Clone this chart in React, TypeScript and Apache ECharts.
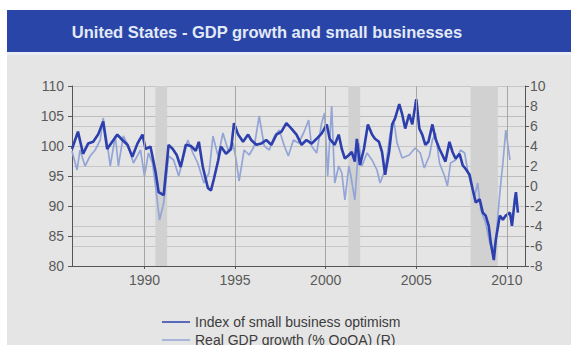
import React, { useEffect, useRef } from "react";
import * as echarts from "echarts";

// Index of small business optimism (left axis)
const indexYears = [
  1986.0, 1986.33, 1986.61, 1986.89, 1987.17, 1987.44, 1987.72, 1987.94, 1988.22, 1988.5,
  1988.78, 1989.06, 1989.33, 1989.61, 1989.89, 1990.06, 1990.33, 1990.61, 1990.78, 1991.06,
  1991.33, 1991.56, 1991.78, 1992.0, 1992.28, 1992.56, 1992.83, 1993.0, 1993.22, 1993.5,
  1993.67, 1993.83, 1994.06, 1994.22, 1994.5, 1994.78, 1994.94, 1995.17, 1995.44, 1995.72,
  1995.89, 1996.17, 1996.44, 1996.72, 1997.0, 1997.28, 1997.56, 1997.83, 1998.11, 1998.39,
  1998.67, 1998.94, 1999.22, 1999.5, 1999.78, 2000.06, 2000.22, 2000.5, 2000.72, 2000.89,
  2001.06, 2001.28, 2001.44, 2001.61, 2001.72, 2001.89, 2002.11, 2002.33, 2002.56, 2002.72,
  2002.94, 2003.11, 2003.28, 2003.5, 2003.67, 2003.83, 2004.06, 2004.22, 2004.39, 2004.61,
  2004.78, 2005.0, 2005.17, 2005.33, 2005.5, 2005.67, 2005.89, 2006.06, 2006.28, 2006.44,
  2006.61, 2006.83, 2007.0, 2007.17, 2007.39, 2007.56, 2007.72, 2007.94, 2008.11, 2008.28,
  2008.5, 2008.67, 2008.83, 2009.0, 2009.11, 2009.28, 2009.39, 2009.61, 2009.78, 2009.94,
  2010.17, 2010.28, 2010.44, 2010.5, 2010.61,
];
const indexValues = [
  99.5, 102.4, 98.7, 100.4, 100.7, 101.9, 104.1, 99.5, 100.7, 101.9,
  101.0, 100.2, 98.2, 100.4, 101.9, 99.5, 99.9, 95.7, 92.3, 91.8,
  100.2, 99.5, 98.5, 96.5, 100.2, 100.0, 99.2, 100.7, 96.5, 93.0,
  92.6, 94.5, 97.5, 99.9, 98.7, 99.5, 103.8, 101.9, 100.7, 101.9,
  101.0, 100.2, 100.4, 101.0, 100.2, 101.9, 102.4, 103.8, 102.9, 101.9,
  100.2, 101.0, 100.4, 101.2, 102.1, 103.6, 101.2, 100.2, 101.9, 99.5,
  97.9, 98.5, 99.0, 97.4, 101.2, 96.8, 99.5, 103.6, 101.9, 101.2,
  100.7, 99.0, 95.2, 99.0, 103.6, 104.6, 107.0, 105.3, 102.9, 105.3,
  103.6, 107.8, 102.9, 101.9, 100.2, 100.7, 103.6, 101.2, 99.5, 98.5,
  97.4, 100.7, 99.0, 97.9, 98.7, 96.8, 96.2, 95.2, 92.8, 90.6,
  91.1, 88.9, 88.4, 86.7, 83.9, 81.0, 84.4, 88.4, 87.7, 88.4,
  88.9, 86.7, 91.1, 92.3, 88.9,
];

// Real GDP growth, % QoQ annualised (right axis)
const gdpYears = [
  1986.0, 1986.28, 1986.44, 1986.72, 1987.0, 1987.28, 1987.56, 1987.72, 1987.94, 1988.11,
  1988.39, 1988.56, 1988.83, 1989.11, 1989.39, 1989.78, 1990.0, 1990.22, 1990.44, 1990.61,
  1990.83, 1991.06, 1991.33, 1991.61, 1991.89, 1992.17, 1992.39, 1992.67, 1992.94, 1993.28,
  1993.56, 1993.78, 1994.06, 1994.33, 1994.61, 1994.89, 1995.06, 1995.22, 1995.5, 1995.78,
  1996.06, 1996.33, 1996.61, 1996.89, 1997.17, 1997.44, 1997.72, 1997.94, 1998.22, 1998.5,
  1998.78, 1999.06, 1999.22, 1999.5, 1999.78, 1999.94, 2000.11, 2000.33, 2000.5, 2000.72,
  2000.89, 2001.06, 2001.28, 2001.39, 2001.61, 2001.83, 2002.0, 2002.28, 2002.56, 2002.83,
  2003.0, 2003.28, 2003.56, 2003.78, 2003.94, 2004.22, 2004.61, 2004.94, 2005.22, 2005.44,
  2005.72, 2005.89, 2006.06, 2006.28, 2006.56, 2006.72, 2006.89, 2007.17, 2007.44, 2007.67,
  2007.83, 2008.0, 2008.22, 2008.39, 2008.56, 2008.83, 2009.06, 2009.22, 2009.39, 2009.61,
  2009.78, 2009.94, 2010.17,
];
const gdpValues = [
  3.5, 1.6, 3.6, 2.0, 3.0, 3.6, 4.6, 6.8, 4.3, 2.0,
  5.0, 2.0, 5.0, 4.0, 2.3, 3.6, 1.0, 3.3, 2.3, 0.0,
  -3.4, -1.7, 3.0, 2.6, 1.0, 3.0, 4.6, 3.3, 2.3, 0.3,
  1.3, 5.0, 3.0, 5.3, 3.6, 4.3, 2.6, 0.5, 3.6, 3.1,
  4.0, 7.0, 4.0, 3.6, 5.0, 5.6, 4.0, 3.0, 4.6, 4.3,
  5.3, 6.6, 4.0, 3.3, 6.3, 7.3, 1.0, 8.0, 0.3, 2.0,
  1.3, -1.4, 2.0, 1.0, -1.4, 4.3, 2.0, 3.3, 2.6, 1.6,
  0.3, 1.6, 5.3, 6.3, 4.3, 2.8, 3.1, 3.8, 3.3, 1.8,
  3.0, 4.6, 5.3, 2.3, 1.0, 0.0, 2.3, 2.6, 3.6, 3.3,
  1.6, 0.3, -1.0, 0.3, -2.4, -3.7, -5.7, -6.7, -5.4, -0.7,
  2.3, 5.6, 2.6,
];

// Recession periods (shaded)
const recessionStart = [1990.6, 2001.25, 2008.0];
const recessionEnd = [1991.25, 2001.9, 2009.5];

const yearTicks = [1990, 1995, 2000, 2005, 2010];
const titleText = "United States - GDP growth and small businesses";
const seriesNames = ["Index of small business optimism", "Real GDP growth (% QoQA) (R)"];

const FONT = "'Liberation Sans', Arial, Helvetica, sans-serif";

export default function App() {
  const ref = useRef<HTMLDivElement>(null);

  useEffect(() => {
    if (!ref.current) return;
    const chart = echarts.init(ref.current, undefined, { renderer: "svg" });
    const labelColor = "#5a5a5a";
    const axisColor = "#555555";

    chart.setOption({
      animation: false,
      backgroundColor: "#e5e5e5",
      textStyle: { fontFamily: FONT },
      graphic: [
        {
          type: "rect",
          left: 0,
          top: 0,
          shape: { width: 564, height: 42 },
          style: { fill: "#2a45a8" },
          z: 10,
        },
        {
          type: "rect",
          left: 0,
          top: 42,
          shape: { width: 564, height: 3 },
          style: { fill: "#e9ecf3" },
          z: 10,
        },
        {
          type: "text",
          x: 260,
          y: 22,
          z: 11,
          style: {
            text: titleText,
            fill: "#e3eaf7",
            font: `bold 16.5px ${FONT}`,
            textAlign: "center",
            textVerticalAlign: "middle",
          },
        },
      ],
      grid: { left: 65, right: 46, top: 76, bottom: 79, containLabel: false },
      legend: {
        orient: "vertical",
        left: 155,
        top: 305,
        height: 60,
        padding: 0,
        icon: "rect",
        itemWidth: 28,
        itemHeight: 1.5,
        itemGap: 4,
        data: seriesNames,
        textStyle: { color: "#3c3c3c", fontSize: 14, fontFamily: FONT, lineHeight: 14 },
      },
      xAxis: {
        type: "value",
        min: 1986,
        max: 2011,
        axisLine: { show: true, onZero: false, lineStyle: { color: axisColor, width: 1 } },
        axisTick: { show: true, length: 3, customValues: yearTicks, lineStyle: { color: axisColor } },
        axisLabel: {
          customValues: yearTicks,
          formatter: (v: number) => String(v),
          color: labelColor,
          fontSize: 14,
          margin: 7,
          fontFamily: FONT,
        },
        splitLine: { show: false },
      },
      yAxis: [
        {
          type: "value",
          min: 80,
          max: 110,
          interval: 5,
          position: "left",
          axisLine: { show: true, lineStyle: { color: axisColor } },
          axisTick: { show: true, length: 4, lineStyle: { color: axisColor } },
          axisLabel: { color: labelColor, fontSize: 14, margin: 8, fontFamily: FONT },
          splitLine: { show: true, lineStyle: { color: "#bdbdbd", width: 1 } },
        },
        {
          type: "value",
          min: -8,
          max: 10,
          interval: 2,
          position: "right",
          axisLine: { show: true, lineStyle: { color: axisColor } },
          axisTick: { show: true, length: 4, lineStyle: { color: axisColor } },
          axisLabel: { color: labelColor, fontSize: 14, margin: 5, fontFamily: FONT },
          splitLine: { show: true, lineStyle: { color: "#c6c6c6", width: 1 } },
        },
      ],
      series: [
        {
          name: "bands",
          type: "line",
          yAxisIndex: 0,
          data: [],
          silent: true,
          z: 1,
          markArea: {
            silent: true,
            itemStyle: { color: "#d1d1d1" },
            data: recessionStart.map((s, i) => [{ xAxis: s }, { xAxis: recessionEnd[i] }]),
          },
          markLine: {
            silent: true,
            symbol: ["none", "none"],
            label: { show: false },
            lineStyle: { color: "#a6a6a6", type: "solid", width: 1 },
            data: yearTicks.map((y) => ({ xAxis: y })),
          },
        },
        {
          name: seriesNames[1],
          type: "line",
          yAxisIndex: 1,
          symbol: "none",
          showSymbol: false,
          z: 3,
          color: "#93a5d6",
          lineStyle: { color: "#93a5d6", width: 1.7 },
          data: gdpYears.map((y, i) => [y, gdpValues[i]]),
        },
        {
          name: seriesNames[0],
          type: "line",
          yAxisIndex: 0,
          symbol: "none",
          showSymbol: false,
          z: 4,
          color: "#2c3fad",
          lineStyle: { color: "#2c3fad", width: 2.6 },
          data: indexYears.map((y, i) => [y, indexValues[i]]),
        },
      ],
    });

    return () => chart.dispose();
  }, []);

  return (
    <div
      style={{
        position: "fixed",
        left: 0,
        top: 0,
        width: 571,
        height: 345,
        background: "#ffffff",
        overflow: "hidden",
      }}
    >
      <div
        ref={ref}
        style={{ position: "absolute", left: 7, top: 10, width: 564, height: 335 }}
      />
    </div>
  );
}
